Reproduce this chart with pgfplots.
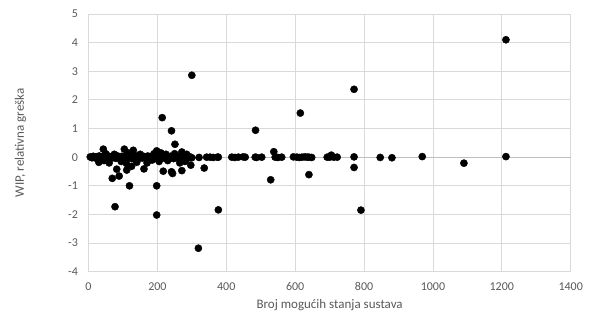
\documentclass[border=0pt]{standalone}
\usepackage{fontspec}
\setmainfont{Carlito}
\usepackage{pgfplots}
\pgfplotsset{compat=1.18}
\definecolor{gridc}{HTML}{D9D9D9}
\definecolor{zeroc}{HTML}{BFBFBF}
\definecolor{txt}{HTML}{595959}
\begin{document}
\begin{tikzpicture}[x=1pt,y=1pt]
\useasboundingbox (0,0) rectangle (595,323);
\begin{axis}[
  at={(88.5pt,51.3pt)}, anchor=south west,
  scale only axis, width=482.2pt, height=257.7pt,
  xmin=0, xmax=1400, ymin=-4, ymax=5,
  xtick distance=200, ytick distance=1,
  grid=major, major grid style={gridc, line width=0.8pt},
  axis line style={draw=none}, tick style={draw=none},
  ticklabel style={font=\fontsize{12}{14}\selectfont, text=txt},
  xticklabel style={yshift=-7pt},
  yticklabel style={xshift=-7pt},
  /pgf/number format/assume math mode=true,
  /pgf/number format/set thousands separator={},
  xlabel={Broj mogućih stanja sustava},
  ylabel={WIP, relativna greška},
  label style={font=\fontsize{13}{15}\selectfont, text=txt},
  xlabel style={at={(axis description cs:0.5,-0.128)}, anchor=center},
  ylabel style={at={(axis description cs:-0.141,0.5)}, anchor=center},
  clip=false,
]
\draw[zeroc, line width=0.8pt] (axis cs:0,0) -- (axis cs:1400,0);
\addplot[only marks, mark=*, mark size=3.6pt, black] table {
x y
5 0.01
10 -0.02
14 0.03
18 0.00
22 -0.04
25 0.02
28 -0.01
30 -0.18
31 0.04
34 -0.03
37 0.01
40 -0.05
43 0.03
45 -0.12
46 0.00
49 -0.04
50 0.12
52 0.02
55 -0.02
58 0.04
60 -0.20
61 -0.05
64 0.01
67 -0.03
70 0.03
73 -0.01
75 0.10
76 0.02
79 -0.04
82 0.00
85 0.04
88 -0.02
91 0.01
94 -0.05
95 -0.15
97 0.03
100 -0.01
103 0.02
106 -0.04
109 0.00
110 -0.22
112 0.04
115 0.15
115 -0.03
118 0.01
121 -0.02
124 0.03
127 -0.05
130 0.00
133 0.02
136 -0.03
139 0.04
140 -0.18
142 -0.01
145 0.01
148 -0.04
150 0.10
151 0.02
154 0.00
157 -0.03
160 0.03
163 -0.02
166 0.01
169 -0.05
170 -0.20
172 0.04
175 -0.01
178 0.02
181 -0.04
184 0.00
185 -0.10
187 0.03
190 0.12
190 -0.02
193 0.01
196 -0.03
199 0.04
202 0.00
205 -0.15
205 -0.02
208 0.03
210 0.15
211 -0.04
214 0.01
217 0.02
220 -0.03
223 0.04
225 0.10
226 -0.01
229 0.02
230 -0.12
232 -0.04
235 0.00
238 0.03
241 -0.02
244 0.01
247 -0.05
250 0.12
250 0.02
253 -0.01
256 0.03
259 -0.03
262 0.00
265 -0.20
265 0.02
268 -0.04
271 0.01
274 -0.02
278 0.03
280 -0.15
282 -0.01
286 0.02
290 -0.03
295 0.01
300 -0.02
214 1.38
241 0.92
251 0.45
300 2.86
485 0.94
529 -0.79
77 -1.73
198 -2.02
377 -1.84
119 -1.00
198 -1.00
69 -0.74
89 -0.66
82 -0.42
111 -0.45
125 -0.32
161 -0.41
217 -0.49
241 -0.51
244 -0.57
271 -0.47
297 -0.28
336 -0.38
319 -3.18
43 0.28
104 0.28
130 0.24
198 0.22
271 0.18
285 0.10
538 0.19
615 1.54
771 2.37
1212 4.10
1212 0.02
771 0.01
771 -0.36
791 -1.85
847 -0.01
881 -0.02
969 0.02
1090 -0.21
640 -0.61
321 -0.01
343 0.00
353 0.00
362 -0.01
374 0.00
377 0.00
416 0.00
425 -0.01
435 0.00
449 0.01
455 0.00
484 0.00
488 -0.01
503 0.00
542 0.00
550 -0.01
561 0.00
595 0.01
605 0.00
612 -0.01
620 0.00
628 0.01
635 0.00
640 0.00
648 -0.01
693 0.00
700 0.00
705 0.07
712 0.00
722 0.00
};
\end{axis}
\end{tikzpicture}
\end{document}
